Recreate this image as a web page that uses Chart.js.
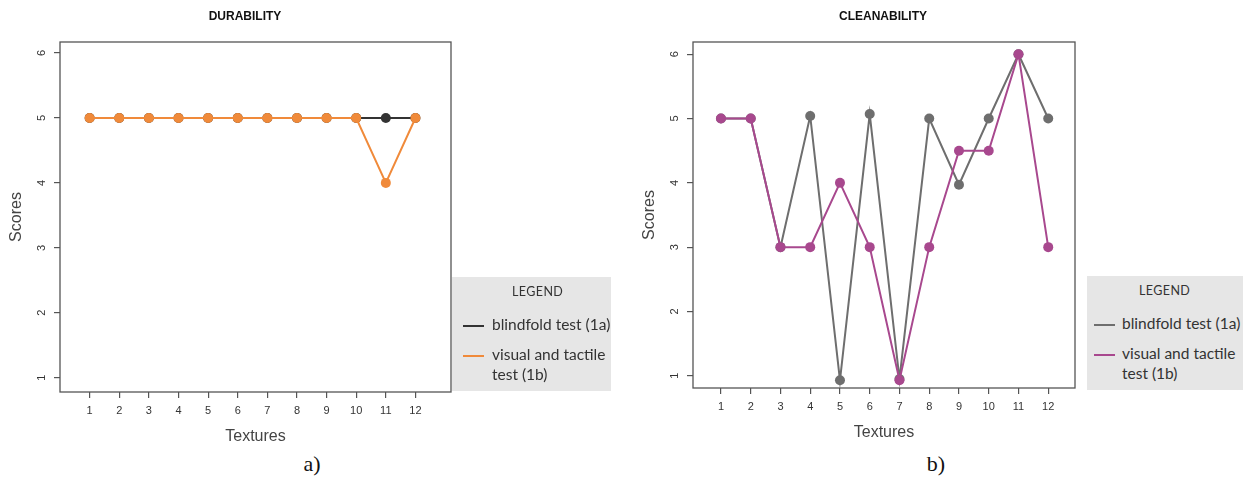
<!DOCTYPE html>
<html>
<head>
<meta charset="utf-8">
<script src="https://cdn.jsdelivr.net/npm/chart.js@4.4.1/dist/chart.umd.min.js"></script>
<style>
  body { margin: 0; background: #fff; }
  #page { position: relative; width: 1243px; height: 482px; overflow: hidden; background: #fff; }
  canvas { position: absolute; top: 0; }
  .title { position: absolute; font: bold 12px "Liberation Sans", Arial, sans-serif; color: #111; transform: translateX(-50%); top: 9px; }
  .caption { position: absolute; font: 22px "Liberation Serif", "Times New Roman", serif; color: #111; transform: translateX(-50%); top: 451px; }
  .legend { position: absolute; background: #e6e6e6; font-family: Lato, "Open Sans", sans-serif; color: #333; }
  .legend .head { position: absolute; top: 7px; font-size: 12.5px; line-height: 16px; letter-spacing: 0.4px; }
  .legend .item { position: absolute; font-size: 15.5px; line-height: 20px; width: 126px; }
  .legend .swatch { position: absolute; width: 21px; height: 2px; }
</style>
</head>
<body>
<div id="page">
  <canvas id="durability" width="460" height="450" style="left:0px"></canvas>
  <canvas id="cleanability" width="460" height="446" style="left:633px"></canvas>
</div>
<script>
// Data
const textures = [1, 2, 3, 4, 5, 6, 7, 8, 9, 10, 11, 12];
const scoreTicks = [1, 2, 3, 4, 5, 6];
const seriesNames = ['blindfold test (1a)', 'visual and tactile test (1b)'];

const durabilityBlind  = [5, 5, 5, 5, 5, 5, 5, 5, 5, 5, 5, 5];
const durabilityVisual = [5, 5, 5, 5, 5, 5, 5, 5, 5, 5, 4, 5];

const cleanBlind  = [5, 5, 3, 5.04, 0.93, 5.07, 0.95, 5, 3.97, 5, 6, 5];
const cleanVisual = [5, 5, 3, 3, 4, 3, 0.93, 3, 4.5, 4.5, 6, 3];

const axisFont = '"Liberation Sans", Arial, sans-serif';

// draws the box around the plot region (R style)
const framePlugin = {
  id: 'frame',
  beforeDatasetsDraw(chart) {
    const { ctx, chartArea: a } = chart;
    ctx.save();
    ctx.strokeStyle = '#555';
    ctx.lineWidth = 1.3;
    ctx.strokeRect(a.left, a.top, a.right - a.left, a.bottom - a.top);
    ctx.restore();
  }
};

function toPoints(vals) {
  return textures.map((t, i) => ({ x: t, y: vals[i] }));
}

function makeChart(id, blindVals, visualVals, colors, opts) {
  const ctx = document.getElementById(id).getContext('2d');
  return new Chart(ctx, {
    type: 'line',
    data: {
      datasets: [
        {
          label: seriesNames[0],
          data: toPoints(blindVals),
          borderColor: colors[0],
          backgroundColor: colors[0],
          pointRadius: 5,
          pointBorderWidth: 0,
          borderWidth: 2,
          order: 1
        },
        {
          label: seriesNames[1],
          data: toPoints(visualVals),
          borderColor: colors[1],
          backgroundColor: colors[1],
          pointRadius: 5,
          pointBorderWidth: 0,
          borderWidth: 2,
          order: 0
        }
      ]
    },
    options: {
      responsive: false,
      animation: false,
      devicePixelRatio: 1,
      layout: { padding: { top: 42, right: opts.padRight, left: 0, bottom: 0 } },
      plugins: { legend: { display: false }, tooltip: { enabled: false } },
      scales: {
        x: {
          type: 'linear',
          min: opts.xMin,
          max: opts.xMax,
          afterBuildTicks: s => { s.ticks = textures.map(v => ({ value: v })); },
          afterFit: s => { s.height = opts.xHeight; },
          grid: { drawOnChartArea: false, drawTicks: true, tickLength: 6, color: '#555', lineWidth: 1.2 },
          border: { display: false },
          ticks: { autoSkip: false, maxRotation: 0, padding: 6, color: '#333', font: { family: axisFont, size: 11 } },
          title: { display: true, text: 'Textures', color: '#444', font: { family: axisFont, size: 16 }, padding: { top: 0, bottom: 3.4 } }
        },
        y: {
          min: opts.yMin,
          max: opts.yMax,
          afterBuildTicks: s => { s.ticks = scoreTicks.map(v => ({ value: v })); },
          afterFit: s => { s.width = 60; },
          grid: { drawOnChartArea: false, drawTicks: true, tickLength: 6, color: '#555', lineWidth: 1.2 },
          border: { display: false },
          ticks: { minRotation: 90, maxRotation: 90, crossAlign: 'center', padding: 9, color: '#333', font: { family: axisFont, size: 11 } },
          title: { display: true, text: 'Scores', color: '#444', font: { family: axisFont, size: 16 }, padding: { top: 7.4, bottom: 0 } }
        }
      }
    },
    plugins: [framePlugin]
  });
}

function addText(cls, text, left) {
  const d = document.createElement('div');
  d.className = cls;
  d.textContent = text;
  d.style.left = left + 'px';
  document.getElementById('page').appendChild(d);
}

function addLegend(box, colors) {
  const el = document.createElement('div');
  el.className = 'legend';
  el.style.left = box.left + 'px';
  el.style.top = box.top + 'px';
  el.style.width = box.width + 'px';
  el.style.height = box.height + 'px';
  const head = document.createElement('div');
  head.className = 'head';
  head.textContent = 'LEGEND';
  head.style.left = box.headLeft + 'px';
  el.appendChild(head);
  seriesNames.forEach((name, i) => {
    const sw = document.createElement('div');
    sw.className = 'swatch';
    sw.style.background = colors[i];
    sw.style.left = box.swLeft + 'px';
    sw.style.top = (48 + i * 30) + 'px';
    el.appendChild(sw);
    const it = document.createElement('div');
    it.className = 'item';
    it.textContent = name;
    it.style.left = box.textLeft + 'px';
    it.style.top = (37 + i * 30) + 'px';
    el.appendChild(it);
  });
  document.getElementById('page').appendChild(el);
}

const durColors = ['#333333', '#f08a3a'];
const cleanColors = ['#6e6e6e', '#a8488e'];

makeChart('durability', durabilityBlind, durabilityVisual, durColors,
  { xMin: 0, xMax: 13.2, yMin: 0.78, yMax: 6.17, padRight: 9, xHeight: 58 });
makeChart('cleanability', cleanBlind, cleanVisual, cleanColors,
  { xMin: 0.06, xMax: 12.9, yMin: 0.81, yMax: 6.19, padRight: 18, xHeight: 58 });

addText('title', 'DURABILITY', 245);
addText('title', 'CLEANABILITY', 883);
addText('caption', 'a)', 312);
addText('caption', 'b)', 936);

addLegend({ left: 452, top: 277, width: 159, height: 114, headLeft: 60, swLeft: 11, textLeft: 40 }, durColors);
addLegend({ left: 1087, top: 276, width: 156, height: 114, headLeft: 52, swLeft: 7, textLeft: 35 }, cleanColors);
</script>
</body>
</html>
